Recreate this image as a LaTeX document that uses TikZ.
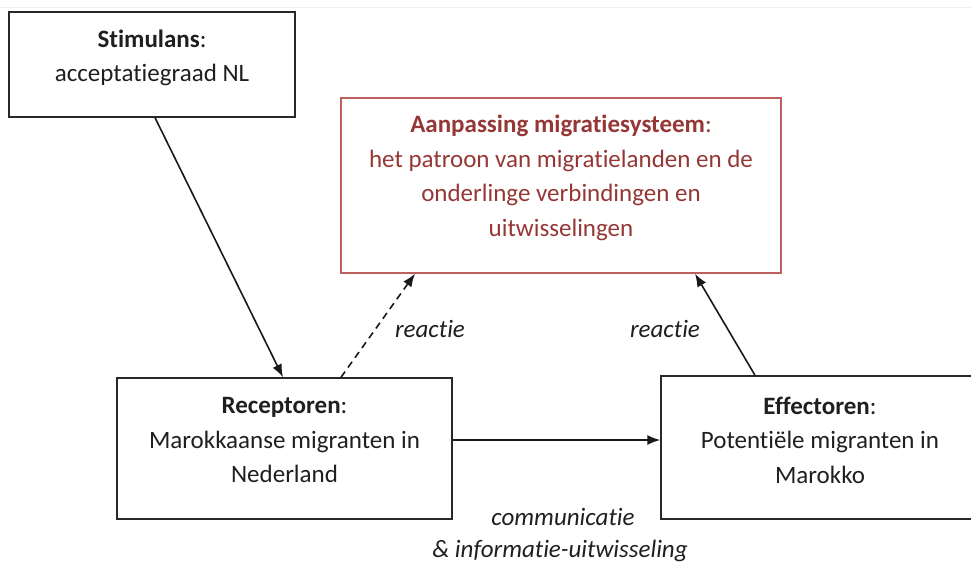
\documentclass[tikz,border=0pt]{standalone}
\usepackage{fontspec}
\setmainfont{Carlito}[Ligatures=NoCommon]
\usetikzlibrary{arrows.meta}
\definecolor{boxred}{RGB}{192,96,94}
\definecolor{textred}{RGB}{149,55,53}
\definecolor{linegray}{RGB}{40,40,40}
\tikzset{
  box/.style={draw=linegray, line width=1.4pt, rectangle, inner sep=0pt},
  redbox/.style={draw=boxred, line width=1.4pt, rectangle, inner sep=0pt},
  txt/.style={align=center, inner sep=0pt, font=\fontsize{25}{34.5}\selectfont, text=black!88},
  lbl/.style={inner sep=0pt, font=\fontsize{25}{34.5}\selectfont\itshape, text=black!88},
  conn/.style={line width=1.6pt, draw=black!90, -{Latex[length=13pt,width=10pt]}},
}
\begin{document}
\begin{tikzpicture}[x=1pt,y=-1pt]
\useasboundingbox (0,0) rectangle (971,563);
\draw[gray!12, line width=1pt] (0,7) -- (971,7);
% boxes
\node[box, minimum width=286pt, minimum height=105pt] (stim) at (152,64.5) {};
\node[redbox, minimum width=440pt, minimum height=175pt] (aan) at (561,185.5) {};
\node[box, minimum width=335pt, minimum height=141pt] (rec) at (284.5,448.5) {};
\node[box, minimum width=324pt, minimum height=143pt] (eff) at (823,447.5) {};
% texts
\node[txt] (stimt) at (152,58) {\textbf{Stimulans}:\\acceptatiegraad NL};
\node[txt, text=textred] (aant) at (561,178) {\textbf{Aanpassing migratiesysteem}:\\het patroon van migratielanden en de\\onderlinge verbindingen en\\uitwisselingen};
\node[txt] (rect) at (284.5,440) {\textbf{Receptoren}:\\Marokkaanse migranten in\\Nederland};
\node[txt] (efft) at (820,440) {\textbf{Effectoren}:\\Potentiële migranten in\\Marokko};
% labels
\node[lbl] (r1) at (430,329) {reactie};
\node[lbl] (r2) at (665,329) {reactie};
\node[lbl] (c1) at (563,517) {communicatie};
\node[lbl] (c2) at (560,551) {\& informatie-uitwisseling};
% connectors
\draw[conn] ([xshift=3pt]stim.south) -- ([xshift=-1.5pt]rec.north);
\draw[conn, dashed, dash pattern=on 7pt off 5pt] ([xshift=56.5pt]rec.north) -- ([xshift=-146pt]aan.south);
\draw[conn] ([xshift=-68pt]eff.north) -- ([xshift=134pt]aan.south);
\draw[conn] ([yshift=8.5pt]rec.east) -- ([yshift=7.5pt]eff.west);
\end{tikzpicture}
\end{document}
